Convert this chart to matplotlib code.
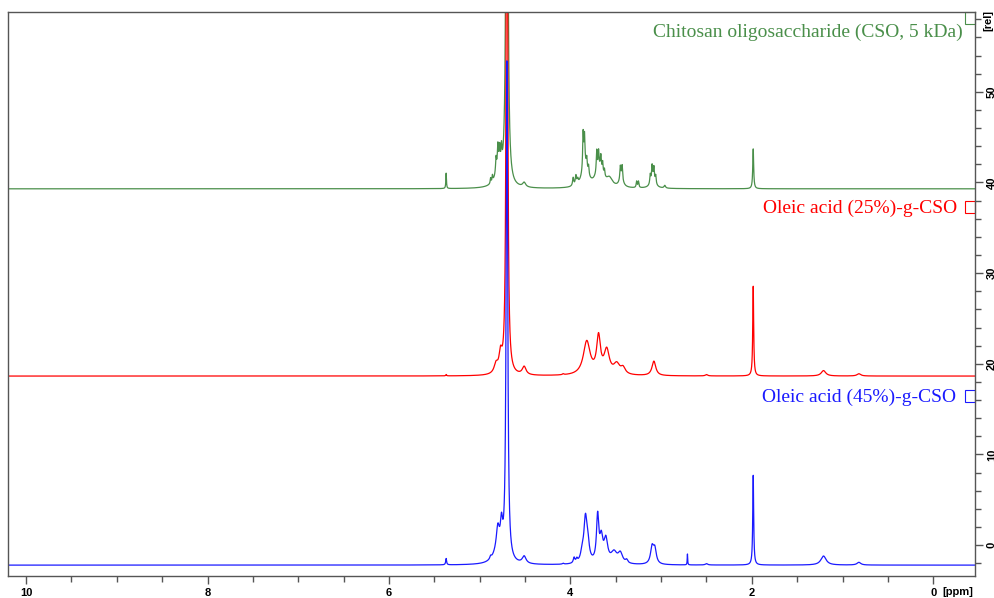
import numpy as np
import matplotlib
matplotlib.use("Agg")
import matplotlib.pyplot as plt
from matplotlib.patches import Rectangle
from matplotlib.ticker import MultipleLocator

# Peak lists: shift (ppm), height (rel), line width (ppm)
cso_shift = [5.37, 4.88, 4.86, 4.82, 4.80, 4.78, 4.76, 4.79, 4.70, 4.51,
             3.97, 3.94, 3.92, 3.86, 3.845, 3.82, 3.80, 3.84,
             3.71, 3.69, 3.665, 3.645, 3.625, 3.68, 3.57,
             3.45, 3.43, 3.44, 3.27, 3.25, 3.12, 3.10, 3.08, 3.06, 3.09, 2.96, 1.985]
cso_height = [1.7, 0.6, 0.7, 1.6, 2.2, 1.7, 1.9, 2.1, 120.0, 0.5,
              0.9, 1.0, 0.5, 4.0, 3.2, 1.2, 1.0, 2.3,
              2.4, 1.9, 1.5, 1.2, 0.8, 2.0, 0.9,
              1.4, 1.5, 1.0, 0.7, 0.7, 1.0, 1.6, 1.4, 0.9, 1.0, 0.3, 4.4]
cso_width = [0.008, 0.01, 0.01, 0.012, 0.012, 0.012, 0.012, 0.08, 0.015, 0.04,
             0.015, 0.015, 0.015, 0.012, 0.012, 0.012, 0.012, 0.08,
             0.012, 0.012, 0.012, 0.012, 0.012, 0.1, 0.08,
             0.012, 0.012, 0.05, 0.012, 0.012, 0.012, 0.012, 0.012, 0.012, 0.06, 0.02, 0.012]

oa25_shift = [5.37, 4.82, 4.77, 4.70, 4.51, 4.08, 3.82, 3.69, 3.60, 3.49, 3.42,
              3.08, 2.50, 1.985, 1.21, 0.82]
oa25_height = [0.15, 1.0, 2.0, 90.0, 0.9, 0.1, 3.7, 4.0, 2.6, 1.1, 0.7,
               1.6, 0.15, 9.9, 0.6, 0.25]
oa25_width = [0.01, 0.05, 0.04, 0.016, 0.05, 0.02, 0.09, 0.05, 0.07, 0.08, 0.06,
              0.05, 0.03, 0.012, 0.06, 0.05]

oa45_shift = [5.37, 4.88, 4.80, 4.76, 4.80, 4.70, 4.51, 4.08, 3.96, 3.93,
              3.87, 3.835, 3.81, 3.70, 3.66, 3.61, 3.52, 3.45, 3.38,
              3.10, 3.07, 2.71, 2.50, 1.985, 1.21, 0.82]
oa45_height = [0.7, 0.3, 2.5, 3.0, 1.2, 55.0, 0.8, 0.1, 0.6, 0.4,
               1.0, 4.5, 2.0, 5.0, 2.5, 2.5, 1.2, 1.1, 0.35,
               1.8, 1.6, 1.2, 0.15, 9.9, 1.0, 0.3]
oa45_width = [0.012, 0.02, 0.04, 0.03, 0.12, 0.02, 0.05, 0.02, 0.02, 0.02,
              0.04, 0.04, 0.04, 0.03, 0.04, 0.05, 0.08, 0.06, 0.03,
              0.04, 0.04, 0.006, 0.03, 0.012, 0.07, 0.05]

offsets = [39.3, 18.65, -2.2]
labels = ["Chitosan oligosaccharide (CSO, 5 kDa)", "Oleic acid (25%)-g-CSO", "Oleic acid (45%)-g-CSO"]
colors = ["#4a8f4a", "#ff0000", "#1a1aff"]


def spectrum(ppm, shifts, heights, widths):
    y = np.zeros_like(ppm)
    for s, h, w in zip(shifts, heights, widths):
        y += h / (1 + ((ppm - s) / (w / 2)) ** 2)
    return y


ppm = np.linspace(10.2, -0.46, 30000)
peaks = [(cso_shift, cso_height, cso_width),
         (oa25_shift, oa25_height, oa25_width),
         (oa45_shift, oa45_height, oa45_width)]

fig = plt.figure(figsize=(9.95, 5.98), dpi=100)
ax = fig.add_axes([8 / 995, 22 / 598, 967 / 995, 564 / 598])

for (s, h, w), off, c in zip(peaks, offsets, colors):
    ax.plot(ppm, spectrum(ppm, s, h, w) + off, color=c, lw=0.9)

ax.set_xlim(10.2, -0.46)
ax.set_ylim(-3.4, 58.8)

ax.xaxis.set_major_locator(MultipleLocator(2))
ax.xaxis.set_minor_locator(MultipleLocator(0.5))
ax.yaxis.set_major_locator(MultipleLocator(10))
ax.yaxis.set_minor_locator(MultipleLocator(2))
ax.yaxis.tick_right()
ax.tick_params(which="both", direction="out", color="#555555")
ax.tick_params(which="major", length=6, width=1)
ax.tick_params(which="minor", length=4, width=1)
ax.tick_params(axis="x", labelsize=8, pad=3)
ax.tick_params(axis="y", labelsize=8, pad=2.5, labelrotation=90)
for lab in ax.get_xticklabels() + ax.get_yticklabels():
    lab.set_fontweight("bold")
    lab.set_fontfamily("Liberation Sans")
for lab in ax.get_yticklabels():
    lab.set_verticalalignment("center")
for sp in ax.spines.values():
    sp.set_color("#555555")
    sp.set_linewidth(1)

ax.text((958 - 8) / 967, (576 - 592) / 564, "[ppm]", transform=ax.transAxes,
        ha="center", va="center", fontsize=8, fontweight="bold", family="Liberation Sans")
ax.text((988 - 8) / 967, 1.004, "[rel]", transform=ax.transAxes, ha="center", va="top",
        rotation=90, fontsize=8, fontweight="bold", family="Liberation Sans")

# labels with bracket markers on the right edge
label_y = [32, 208, 397]
label_right = [963, 957, 956]
box_top = [12, 201, 390]
for lab, c, ly, lr, bt in zip(labels, colors, label_y, label_right, box_top):
    ax.text((lr - 8) / 967, (576 - ly) / 564, lab, transform=ax.transAxes,
            ha="right", va="center", color=c, fontsize=14, family="Liberation Serif")
    ax.add_patch(Rectangle(((965 - 8) / 967, (576 - bt - 12) / 564), 10 / 967, 12 / 564,
                           transform=ax.transAxes, fill=False, edgecolor=c, lw=0.8,
                           clip_on=False))

fig.savefig("out.png", dpi=100)
